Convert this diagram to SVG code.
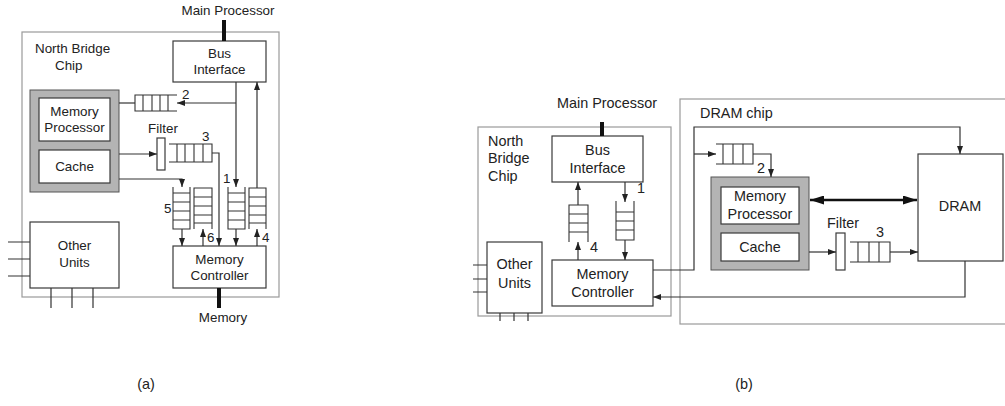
<svg xmlns="http://www.w3.org/2000/svg" width="1005" height="406" viewBox="0 0 1005 406">
<style>
text{font-family:"Liberation Sans",Arial,Helvetica,sans-serif;fill:#222}
.a{font-size:13.4px}
.b{font-size:14.4px}
.m{text-anchor:middle}
.chip{fill:none;stroke:#9a9a9a;stroke-width:1.2}
.box{fill:#fff;stroke:#3a3a3a;stroke-width:1.2}
.gray{fill:#b4b4b4;stroke:#555;stroke-width:1}
.ln{fill:none;stroke:#333;stroke-width:1.2}
.q{fill:none;stroke:#333;stroke-width:1.1}
.thick{stroke:#111;stroke-width:4}
.ar{marker-end:url(#ah)}
</style>
<defs>
<marker id="ah" viewBox="0 0 8 6" refX="8" refY="3" markerWidth="8" markerHeight="6" orient="auto" markerUnits="userSpaceOnUse"><path d="M0,0 L8,3 L0,6 z" fill="#222"/></marker>
<marker id="ahb" viewBox="0 0 14 9" refX="14" refY="4.5" markerWidth="14" markerHeight="9" orient="auto-start-reverse" markerUnits="userSpaceOnUse"><path d="M0,0 L14,4.5 L0,9 z" fill="#111"/></marker>
</defs>

<!-- ============ (a) ============ -->
<g id="a-chip"><rect class="chip" x="22" y="32" width="257" height="265"/><text class="a" x="35" y="53">North Bridge</text><text class="a" x="55" y="70">Chip</text></g>
<g id="a-mainproc"><text class="a m" x="228" y="15">Main Processor</text></g>
<g id="a-bus"><rect class="box" x="173" y="41" width="93" height="41"/><text class="a m" x="219.5" y="58">Bus</text><text class="a m" x="219.5" y="74">Interface</text></g>
<g id="a-memproc"><rect class="gray" x="30" y="90" width="89" height="102"/><rect class="box" x="39" y="98" width="71" height="43"/><text class="a m" x="74.5" y="116">Memory</text><text class="a m" x="74.5" y="132">Processor</text><rect class="box" x="39" y="150" width="71" height="33"/><text class="a m" x="74.5" y="171">Cache</text></g>
<g id="a-q2"><path class="q" d="M177,95H135V111H177M143,95V111M152,95V111M160,95V111M168,95V111"/><text class="a" x="182" y="99">2</text></g>
<g id="a-filter"><rect class="box" x="157" y="138" width="8" height="32"/><text class="a m" x="163" y="133">Filter</text></g>
<g id="a-q3"><path class="q" d="M169,144H212V162H169M177,144V162M185,144V162M194,144V162M203,144V162"/><text class="a" x="202" y="141">3</text></g>
<g id="a-q5"><path class="q" d="M173,187V229H190V187M173,193H190M173,202H190M173,211H190M173,220H190"/><text class="a" x="164" y="213">5</text></g>
<g id="a-q6"><path class="q" d="M194,229V188H212V229M194,197H212M194,206H212M194,215H212M194,223H212"/><text class="a" x="207" y="242">6</text></g>
<g id="a-q1"><path class="q" d="M228,187V229H245V187M228,193H245M228,202H245M228,211H245M228,220H245"/><text class="a" x="223" y="183">1</text></g>
<g id="a-q4"><path class="q" d="M249,229V188H266V229M249,197H266M249,206H266M249,215H266M249,223H266"/><text class="a" x="262" y="242">4</text></g>
<g id="a-memctrl"><rect class="box" x="173" y="246" width="93" height="42"/><text class="a m" x="219.5" y="264">Memory</text><text class="a m" x="219.5" y="280">Controller</text></g>
<g id="a-memory"><text class="a m" x="223" y="322">Memory</text></g>
<g id="a-other"><rect class="box" x="30" y="222" width="89" height="66"/><text class="a m" x="74.5" y="250">Other</text><text class="a m" x="74.5" y="267">Units</text></g>
<g id="a-label"><text class="b m" x="146" y="389">(a)</text></g>

<g id="a-connectors">
<line class="thick" x1="224" y1="20" x2="224" y2="41"/>
<line class="thick" x1="219" y1="288" x2="219" y2="308"/>
<path class="ln" d="M119,103H135"/>
<path class="ln ar" d="M236,103H177"/>
<path class="ln ar" d="M119,154H157"/>
<path class="ln ar" d="M212,153H219V246"/>
<path class="ln ar" d="M119,179H182V187"/>
<path class="ln ar" d="M182,229V246"/>
<path class="ln ar" d="M203,246V229"/>
<path class="ln ar" d="M236,82V187"/>
<path class="ln ar" d="M236,229V246"/>
<path class="ln ar" d="M257,246V229"/>
<path class="ln ar" d="M257,188V82"/>
<path class="ln" d="M8,242H30M8,259H30M8,276H30M51,288V308M72,288V308M93,288V308"/>
</g>

<!-- ============ (b) ============ -->
<g id="b-chip"><rect class="chip" x="478" y="127" width="193" height="189"/><text class="b" x="488" y="146">North</text><text class="b" x="488" y="163">Bridge</text><text class="b" x="488" y="181">Chip</text></g>
<g id="b-mainproc"><text class="b m" x="607" y="108">Main Processor</text></g>
<g id="b-bus"><rect class="box" x="552" y="136" width="91" height="46"/><text class="b m" x="597.5" y="155">Bus</text><text class="b m" x="597.5" y="173">Interface</text></g>
<g id="b-q4"><path class="q" d="M569,242V205H588V242M569,214H588M569,223H588M569,232H588"/><text class="b" x="590" y="252">4</text></g>
<g id="b-q1"><path class="q" d="M616,201V240H634V201M616,212H634M616,221H634M616,230H634"/><text class="b" x="637" y="193">1</text></g>
<g id="b-memctrl"><rect class="box" x="552" y="260" width="101" height="46"/><text class="b m" x="602.5" y="279">Memory</text><text class="b m" x="602.5" y="297">Controller</text></g>
<g id="b-other"><rect class="box" x="487" y="242" width="55" height="71"/><text class="b m" x="514.5" y="269">Other</text><text class="b m" x="514.5" y="288">Units</text></g>
<g id="b-dramchip"><rect class="chip" x="680" y="99" width="340" height="225"/><text class="b" x="700" y="118">DRAM chip</text></g>
<g id="b-q2"><path class="q" d="M716,144H753V164H716M723,144V164M733,144V164M743,144V164"/><text class="b" x="757" y="173">2</text></g>
<g id="b-memproc"><rect class="gray" x="711" y="177" width="98" height="93"/><rect class="box" x="721" y="187" width="78" height="37"/><text class="b m" x="760" y="201">Memory</text><text class="b m" x="760" y="219">Processor</text><rect class="box" x="721" y="233" width="78" height="28"/><text class="b m" x="760" y="252">Cache</text></g>
<g id="b-dram"><rect class="box" x="918" y="154" width="85" height="107"/><text class="b m" x="960" y="211">DRAM</text></g>
<g id="b-filter"><rect class="box" x="836" y="233" width="9" height="37"/><text class="b m" x="843" y="228">Filter</text></g>
<g id="b-q3"><path class="q" d="M850,242H890V262H850M858,242V262M869,242V262M879,242V262"/><text class="b" x="876" y="237">3</text></g>
<g id="b-label"><text class="b m" x="744" y="389">(b)</text></g>

<g id="b-connectors">
<line class="thick" x1="602" y1="122" x2="602" y2="136"/>
<path class="ln ar" d="M578,205V182"/>
<path class="ln ar" d="M578,260V242"/>
<path class="ln ar" d="M625,182V202"/>
<path class="ln ar" d="M625,240V260"/>
<path class="ln" d="M473,265H487M473,279H487M473,292H487M500,313V321M514,313V321M528,313V321"/>
<path class="ln ar" d="M653,270H694V127H960V154"/>
<path class="ln ar" d="M694,154H716"/>
<path class="ln ar" d="M753,154H771V177"/>
<line x1="810" y1="200" x2="917" y2="200" stroke="#111" stroke-width="2.6" marker-start="url(#ahb)" marker-end="url(#ahb)"/>
<path class="ln ar" d="M809,252H836"/>
<path class="ln ar" d="M890,252H918"/>
<path class="ln ar" d="M965,261V297H653"/>
</g>
</svg>
